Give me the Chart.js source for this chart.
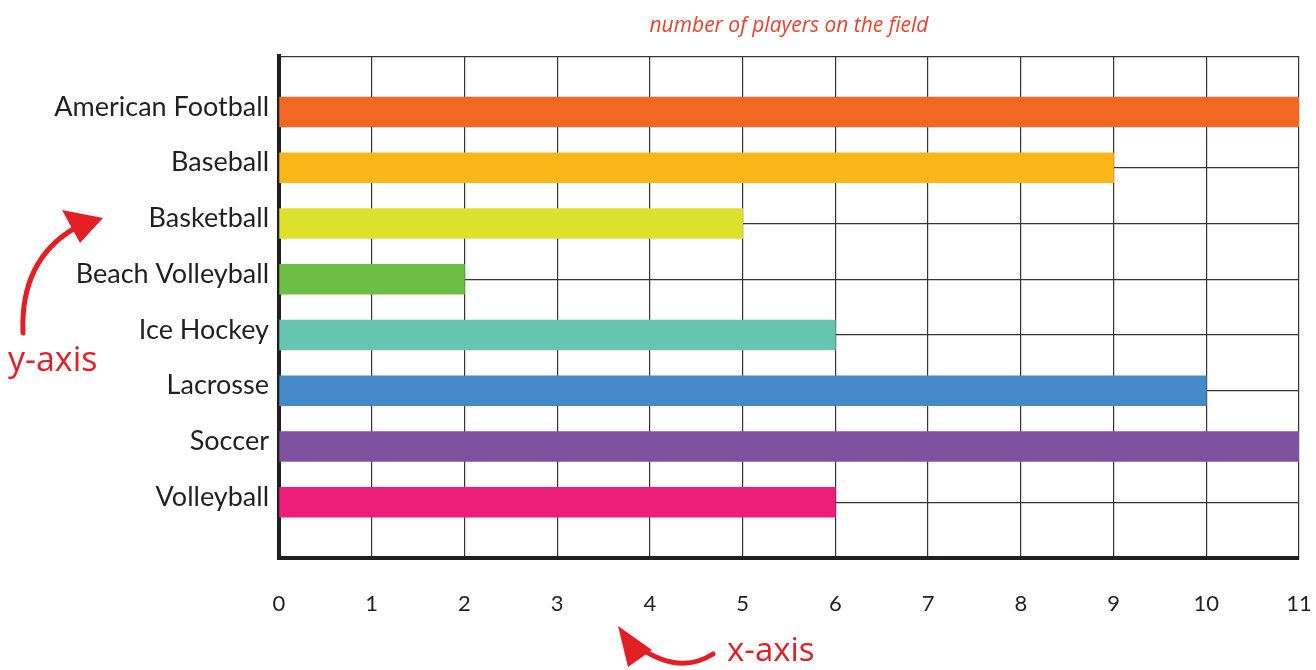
<!DOCTYPE html>
<html>
<head>
<meta charset="utf-8">
<script src="https://cdn.jsdelivr.net/npm/chart.js@4"></script>
<style>
    html, body { margin: 0; padding: 0; background: #fff; }
    #wrap { width: 1316px; height: 670px; }
</style>
</head>
<body>
<div id="wrap"><canvas id="sportsChart" width="1316" height="670"></canvas></div>
<script>
const sports = ['American Football', 'Baseball', 'Basketball', 'Beach Volleyball', 'Ice Hockey', 'Lacrosse', 'Soccer', 'Volleyball'];
const players = [11, 9, 5, 2, 6, 10, 11, 6];
const barColors = ['#f26722', '#fbb61a', '#dde12e', '#6dbe45', '#66c5b0', '#4689c8', '#7d519f', '#ed1e79'];
const xTicks = [0, 1, 2, 3, 4, 5, 6, 7, 8, 9, 10, 11];

// blank rows top and bottom so the grid closes above the first and below the last bar
const rowLabels = ['', ...sports, ''];
const rowValues = [null, ...players, null];
const rowColors = ['#fff', ...barColors, '#fff'];

// red hand-drawn hints for the axes
const axisHints = {
    id: 'axisHints',
    afterDraw(chart) {
        const ctx = chart.ctx;
        ctx.save();
        ctx.strokeStyle = '#e31e24';
        ctx.fillStyle = '#e31e24';
        ctx.lineWidth = 5;
        ctx.lineCap = 'round';

        // y-axis arrow
        ctx.beginPath();
        ctx.moveTo(23, 333);
        ctx.quadraticCurveTo(20, 260, 75, 228);
        ctx.stroke();
        ctx.beginPath();
        ctx.moveTo(103, 218);
        ctx.lineTo(62, 210);
        ctx.lineTo(80, 243);
        ctx.closePath();
        ctx.fill();

        // x-axis arrow
        ctx.beginPath();
        ctx.moveTo(713, 654);
        ctx.quadraticCurveTo(680, 675, 640, 648);
        ctx.stroke();
        ctx.beginPath();
        ctx.moveTo(618, 626);
        ctx.lineTo(628, 667);
        ctx.lineTo(652, 650);
        ctx.closePath();
        ctx.fill();

        ctx.font = '34px "Open Sans"';
        ctx.textBaseline = 'middle';
        ctx.textAlign = 'left';
        ctx.fillText('y-axis', 8, 361);
        ctx.font = '33px "Open Sans"';
        ctx.fillText('x-axis', 727, 652);
        ctx.restore();
    }
};

const ctx = document.getElementById('sportsChart').getContext('2d');
new Chart(ctx, {
    type: 'bar',
    data: {
        labels: rowLabels,
        datasets: [{
            data: rowValues,
            backgroundColor: rowColors,
            barThickness: 30,
            borderWidth: 0
        }]
    },
    options: {
        indexAxis: 'y',
        responsive: false,
        animation: false,
        layout: { padding: { left: 0, right: 17, top: 0, bottom: 0 } },
        plugins: {
            legend: { display: false },
            tooltip: { enabled: false },
            title: {
                display: true,
                text: 'number of players on the field',
                color: '#e8432e',
                fullSize: false,
                font: { family: '"Open Sans"', size: 21, style: 'italic', weight: 'normal', lineHeight: 1.2 },
                padding: { top: 13, bottom: 18 }
            }
        },
        scales: {
            x: {
                type: 'linear',
                min: 0,
                max: 11,
                afterBuildTicks(scale) {
                    scale.ticks = xTicks.map(v => ({ value: v }));
                },
                afterFit(scale) {
                    scale.height = 112;
                    scale.paddingLeft = 0;
                    scale.paddingRight = 0;
                },
                grid: { color: '#3a3232', lineWidth: 1.2, drawTicks: false },
                border: { color: '#231f20', width: 4 },
                ticks: {
                    color: '#231f20',
                    padding: 33,
                    font: { family: 'Lato', size: 22 }
                }
            },
            y: {
                offset: false,
                afterFit(scale) { scale.width = 279; },
                grid: { color: '#3a3232', lineWidth: 1.2, offset: false, drawTicks: false },
                border: { color: '#231f20', width: 4 },
                ticks: {
                    color: '#231f20',
                    padding: 10,
                    autoSkip: false,
                    labelOffset: -5,
                    font: { family: 'Lato', size: 27 }
                }
            }
        }
    },
    plugins: [axisHints]
});
</script>
</body>
</html>
